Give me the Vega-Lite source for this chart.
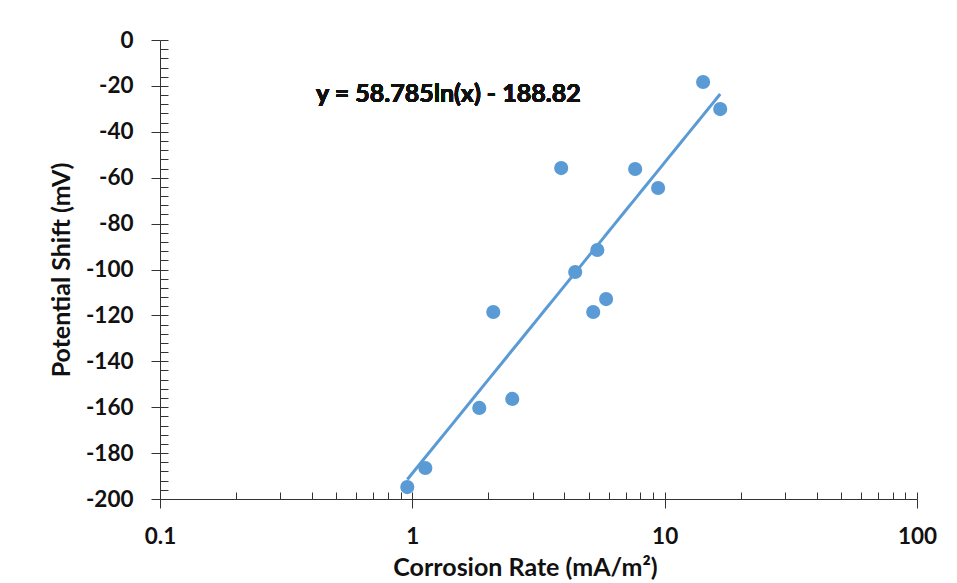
{
  "$schema": "https://vega.github.io/schema/vega-lite/v6.json",
  "width": 757,
  "height": 459,
  "autosize": "none",
  "padding": {"left": 160, "top": 40, "right": 40, "bottom": 84},
  "background": "white",
  "config": {
    "view": {"stroke": null},
    "font": "Lato",
    "axis": {"grid": false, "domainColor": "#333333", "tickColor": "#333333", "labelColor": "#111111", "titleColor": "#111111", "labelFont": "Lato", "titleFont": "Lato", "labelFontWeight": "bold", "titleFontWeight": "bold", "labelFontSize": 22.5, "titleFontSize": 25}
  },
  "data": {
    "values": [
      {"rate": 0.955, "shift": -194.8},
      {"rate": 1.126, "shift": -186.5},
      {"rate": 1.842, "shift": -160.3},
      {"rate": 2.093, "shift": -118.5},
      {"rate": 2.489, "shift": -156.4},
      {"rate": 3.89, "shift": -55.8},
      {"rate": 4.42, "shift": -101.1},
      {"rate": 5.41, "shift": -91.5},
      {"rate": 5.21, "shift": -118.5},
      {"rate": 5.86, "shift": -112.9},
      {"rate": 7.64, "shift": -56.2},
      {"rate": 9.42, "shift": -64.5},
      {"rate": 14.2, "shift": -18.3},
      {"rate": 16.6, "shift": -30.1}
    ]
  },
  "resolve": {"axis": {"x": "independent", "y": "independent"}},
  "layer": [
    {
      "mark": {"type": "point", "filled": true, "size": 200, "color": "#5B9BD5", "opacity": 1},
      "encoding": {
        "x": {
          "field": "rate", "type": "quantitative",
          "scale": {"type": "log", "domain": [0.1, 100], "nice": false},
          "axis": {"orient": "bottom", "values": [0.1, 1, 10, 100], "tickSize": 9, "labelPadding": 17, "labelFlush": false, "labelOverlap": false, "labelExpr": "toString(datum.value)", "title": "Corrosion Rate (mA/m²)", "titleX": 365, "titleY": 76, "titleBaseline": "alphabetic", "titleAnchor": "middle"}
        },
        "y": {
          "field": "shift", "type": "quantitative",
          "scale": {"domain": [-200, 0], "nice": false, "zero": false},
          "axis": {"orient": "left", "values": [-200, -180, -160, -140, -120, -100, -80, -60, -40, -20, 0], "tickSize": 9, "labelPadding": 18, "labelFlush": false, "labelOverlap": false, "labelExpr": "toString(datum.value)", "title": "Potential Shift (mV)", "titleX": -91, "titleBaseline": "alphabetic", "titleAnchor": "middle"}
        }
      }
    },
    {
      "transform": [{"regression": "shift", "on": "rate", "method": "log"}],
      "mark": {"type": "line", "color": "#5B9BD5", "strokeWidth": 3},
      "encoding": {
        "x": {
          "field": "rate", "type": "quantitative",
          "axis": {"orient": "bottom", "values": [0.1, 0.2, 0.3, 0.4, 0.5, 0.6, 0.7, 0.8, 0.9, 1, 2, 3, 4, 5, 6, 7, 8, 9, 10, 20, 30, 40, 50, 60, 70, 80, 90, 100], "tickSize": -7, "labels": false, "domain": false, "title": null}
        },
        "y": {
          "field": "shift", "type": "quantitative",
          "axis": {"orient": "left", "values": [-200, -196, -192, -188, -184, -180, -176, -172, -168, -164, -160, -156, -152, -148, -144, -140, -136, -132, -128, -124, -120, -116, -112, -108, -104, -100, -96, -92, -88, -84, -80, -76, -72, -68, -64, -60, -56, -52, -48, -44, -40, -36, -32, -28, -24, -20, -16, -12, -8, -4, 0], "tickSize": -8, "labels": false, "domain": false, "title": null}
        }
      }
    },
    {
      "mark": {"type": "text", "text": "y = 58.785ln(x) - 188.82", "font": "Lato", "fontWeight": "bold", "fontSize": 25, "align": "center", "baseline": "alphabetic", "color": "#111111"},
      "encoding": {
        "x": {"datum": 1.389, "type": "quantitative", "axis": null},
        "y": {"datum": -27.0, "type": "quantitative", "axis": null}
      }
    }
  ]
}
